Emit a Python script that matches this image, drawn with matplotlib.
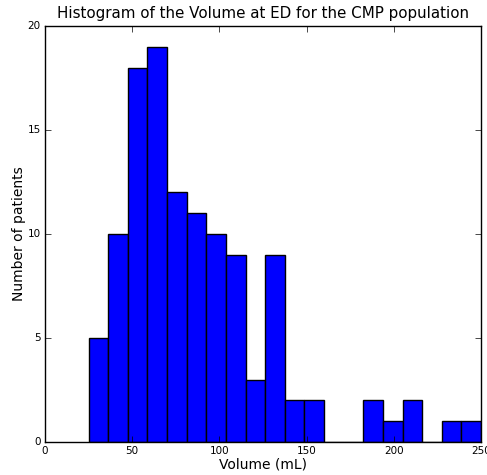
import numpy as np
import matplotlib
matplotlib.use("Agg")
from matplotlib import pyplot as plt

# histogram bins (mL) and patient counts per bin
bin_edges = np.linspace(25, 250, 21)
counts = [5, 10, 18, 19, 12, 11, 10, 9, 3, 9, 2, 2, 0, 0, 2, 1, 2, 0, 1, 1]

plt.style.use('classic')
fig = plt.figure(figsize=(4.87, 4.75), dpi=100, facecolor='white')
ax = fig.add_axes([0.0924, 0.0695, 0.8953, 0.8755])

centers = (bin_edges[:-1] + bin_edges[1:]) / 2
ax.hist(centers, bins=bin_edges, weights=counts, color='b', edgecolor='black', linewidth=1)

ax.set_xlim(0, 250)
ax.set_ylim(0, 20)
ax.set_xticks([0, 50, 100, 150, 200, 250])
ax.set_yticks([0, 5, 10, 15, 20])
ax.tick_params(labelsize=7.5, direction='in', length=4, pad=3)

ax.set_title("Histogram of the Volume at ED for the CMP population", fontsize=10.9, y=1.003)
ax.set_xlabel("Volume (mL)", fontsize=10, labelpad=1)
ax.set_ylabel("Number of patients", fontsize=10, labelpad=1)

fig.savefig("out.png", dpi=100, facecolor='white')
